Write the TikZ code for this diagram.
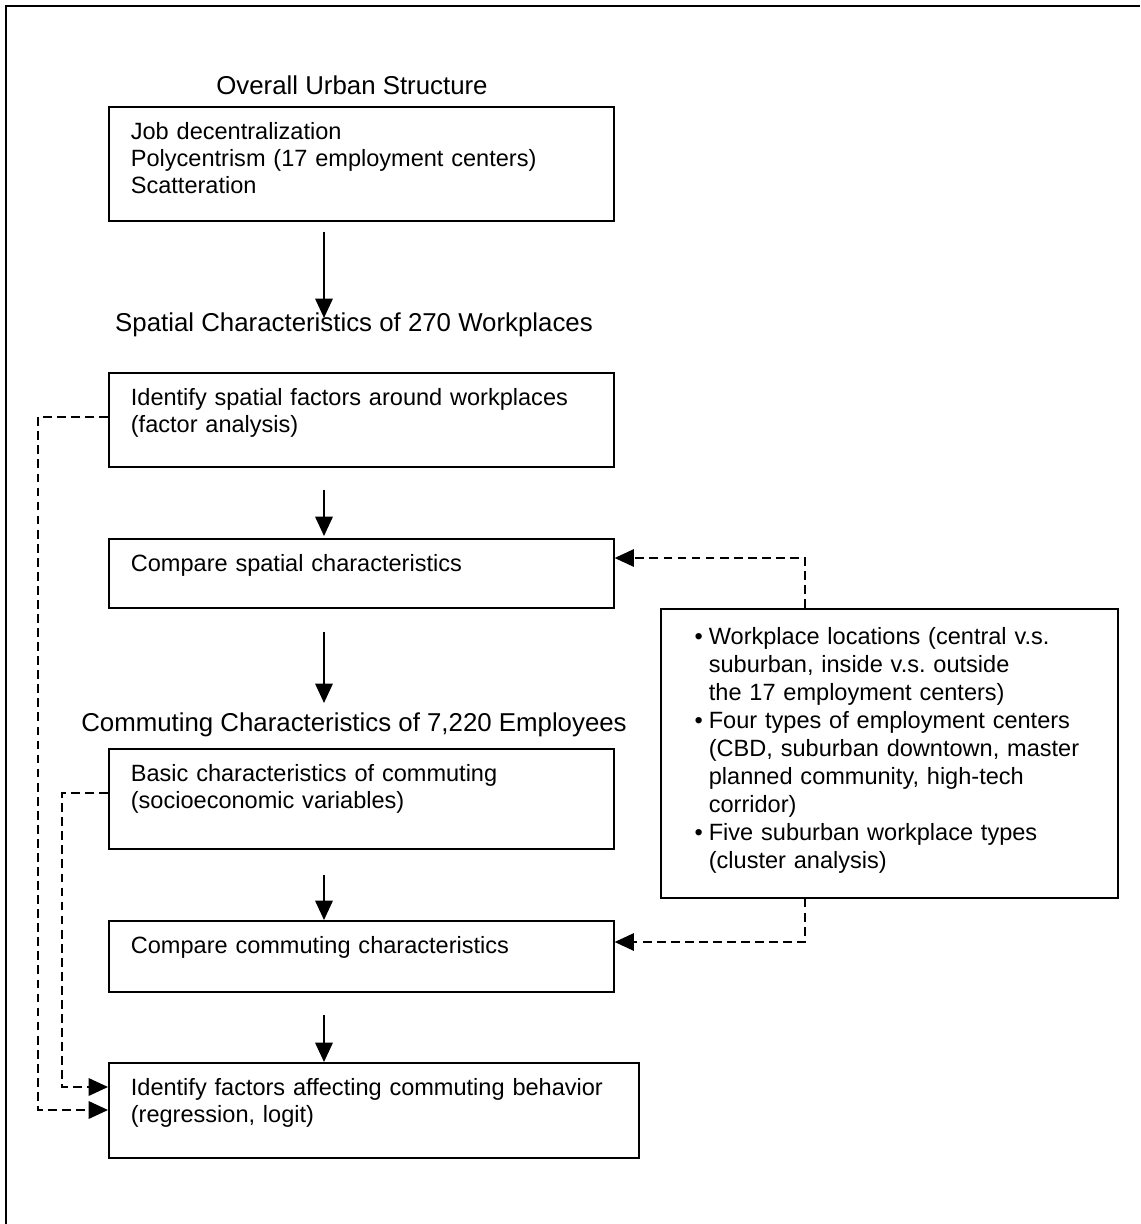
\documentclass[tikz,border=0pt]{standalone}
\usepackage{fontspec}
\setmainfont{Liberation Sans}
\usetikzlibrary{arrows.meta,calc}
\newcommand{\boxfont}{\fontsize{13.4pt}{15.3pt}\selectfont}
\newcommand{\headfont}{\fontsize{14.7pt}{17pt}\selectfont}
\newcommand{\bul}{\leavevmode\llap{\textbullet\hspace{0.12cm}}}
\tikzset{
  box/.style={draw,line width=1pt,anchor=north west,inner xsep=0.44cm,inner ysep=0pt,align=left,font=\boxfont,text height=0.66cm},
  head/.style={anchor=base,inner sep=0pt,font=\headfont},
  arr/.style={-{Triangle[length=11pt,width=10pt]},line width=0.8pt},
  darr/.style={-{Triangle[length=11pt,width=10pt]},line width=0.8pt,dash pattern=on 5pt off 3pt},
}

\begin{document}
\frenchspacing
\begin{tikzpicture}[x=0.02cm,y=-0.02cm]
\useasboundingbox (0,0) rectangle (1140,1224);
\draw[line width=1.5pt] (6,1224) -- (6,6) -- (1140,6);
\coordinate (spine) at (324,0);

% urban structure
\node[head] (overall) at (352,94) {Overall Urban Structure};
\node[box,text width=9.22cm,text depth=1.62cm] (urban) at (108,106) {Job decentralization\\Polycentrism (17 employment centers)\\Scatteration};

% workplaces
\node[head] (spatial) at (354,331) {Spatial Characteristics of 270 Workplaces};
\node[box,text width=9.22cm,text depth=1.22cm] (factors) at (108,372) {Identify spatial factors around workplaces\\(factor analysis)};
\node[box,text width=9.22cm,text depth=0.72cm] (cmpspatial) at (108,538) {Compare spatial characteristics};

% employees
\node[head] (commuting) at (354,731) {Commuting Characteristics of 7,220 Employees};
\node[box,text width=9.22cm,text depth=1.34cm] (basic) at (108,748) {Basic characteristics of commuting\\(socioeconomic variables)};
\node[box,text width=9.22cm,text depth=0.76cm] (cmpcommute) at (108,920) {Compare commuting characteristics};
\node[box,text width=9.72cm,text depth=1.24cm] (logit) at (108,1062) {Identify factors affecting commuting behavior\\(regression, logit)};

\node[box,inner xsep=0.2cm,text width=8.74cm,text height=0.72cm,text depth=5.06cm,font=\fontsize{13.4pt}{15.9pt}\selectfont] (locations) at (660,608) {\leftskip=0.76cm
\bul Workplace locations (central v.s.\\suburban, inside v.s. outside\\the 17 employment centers)\\
\bul Four types of employment centers\\(CBD, suburban downtown, master\\planned community, high-tech\\corridor)\\
\bul Five suburban workplace types\\(cluster analysis)\par};

\draw[arr] ($(urban.south -| spine)+(0,10)$) -- ($(spatial.north -| spine)+(0,6)$);
\draw[arr] ($(factors.south -| spine)+(0,22)$) -- ($(cmpspatial.north -| spine)+(0,-2)$);
\draw[arr] ($(cmpspatial.south -| spine)+(0,23)$) -- ($(commuting.north -| spine)+(0,-9)$);
\draw[arr] ($(basic.south -| spine)+(0,25)$) -- (cmpcommute.north -| spine);
\draw[arr] ($(cmpcommute.south -| spine)+(0,22)$) -- (logit.north -| spine);

\draw[darr] ($(factors.north west)+(0,45)$) -| ($(logit.north west)+(-70,48)$) -- ($(logit.north west)+(0,48)$);
\draw[darr] ($(basic.north west)+(0,45)$) -| ($(logit.north west)+(-46,25)$) -- ($(logit.north west)+(0,25)$);
\draw[darr] ($(locations.north west)+(145,0)$) |- ($(cmpspatial.north east)+(0,20)$);
\draw[darr] ($(locations.south west)+(145,0)$) |- ($(cmpcommute.north east)+(0,22)$);
\end{tikzpicture}
\end{document}
